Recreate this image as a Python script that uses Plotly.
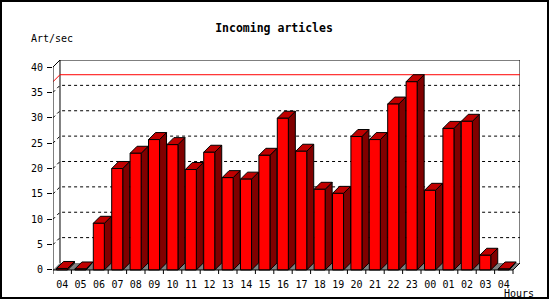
import plotly.graph_objects as go

hours = ["04", "05", "06", "07", "08", "09", "10", "11", "12", "13", "14", "15", "16",
         "17", "18", "19", "20", "21", "22", "23", "00", "01", "02", "03", "04"]
values = [0.3, 0.2, 9.2, 20.0, 23.0, 25.7, 24.7, 19.8, 23.2, 18.2, 17.9, 22.6, 29.9,
          23.4, 15.9, 15.1, 26.3, 25.7, 32.7, 37.1, 15.7, 27.9, 29.3, 2.9, 0.2]
y_ticks = [0, 5, 10, 15, 20, 25, 30, 35, 40]
grid_vals = [5, 10, 15, 20, 25, 30, 35]

N = len(values)
YMAX = 40
DX = 0.38   # depth in x (slot units)
DY = 1.38   # depth in y (value units)
YB = 0.79   # room below zero for the x tick marks (value units)
F0, FW = 0.19, 0.60  # front face offset / width within slot

MONO = "DejaVu Sans Mono"

fig = go.Figure()

# floor
fig.add_trace(go.Scatter(x=[0, N, N + DX, DX, 0], y=[0, 0, DY, DY, 0], mode="lines",
                         fill="toself", fillcolor="#808080", line=dict(width=0),
                         hoverinfo="skip", showlegend=False))

# back wall grid (dotted) with left-wall diagonal
gx, gy = [], []
for g in grid_vals:
    gx += [0, DX, N + DX, None]
    gy += [g, g + DY, g + DY, None]
fig.add_trace(go.Scatter(x=gx, y=gy, mode="lines",
                         line=dict(color="black", width=1, dash="3px,3px"),
                         hoverinfo="skip", showlegend=False))

# back wall frame
fig.add_trace(go.Scatter(x=[DX, DX, N + DX, N + DX], y=[DY, YMAX + DY, YMAX + DY, DY],
                         mode="lines", line=dict(color="black", width=1),
                         cliponaxis=False, hoverinfo="skip", showlegend=False))

# max line (red)
vmax = max(values)
fig.add_trace(go.Scatter(x=[0, DX, N + DX], y=[vmax, vmax + DY, vmax + DY], mode="lines",
                         line=dict(color="#ff0000", width=1),
                         hoverinfo="skip", showlegend=False))

# bars: faces
fx, fy, tx, ty, sx, sy = [], [], [], [], [], []
for i, v in enumerate(values):
    x0 = i + F0
    x1 = x0 + FW
    fx += [x0, x1, x1, x0, x0, None]
    fy += [0, 0, v, v, 0, None]
    tx += [x0, x1, x1 + DX, x0 + DX, x0, None]
    ty += [v, v, v + DY, v + DY, v, None]
    sx += [x1, x1 + DX, x1 + DX, x1, x1, None]
    sy += [0, DY, v + DY, v, 0, None]

for xs, ys, col in [(sx, sy, "#800000"), (tx, ty, "#c00000"), (fx, fy, "#ff0000")]:
    fig.add_trace(go.Scatter(x=xs, y=ys, mode="lines", fill="toself", fillcolor=col,
                             line=dict(color="black", width=1),
                             hoverinfo="skip", showlegend=False))

# front axes
fig.add_trace(go.Scatter(x=[DX, 0, 0, N, N + DX], y=[YMAX + DY, YMAX, 0, 0, DY],
                         mode="lines", line=dict(color="black", width=1),
                         cliponaxis=False, hoverinfo="skip", showlegend=False))

# x tick marks at slot boundaries
kx, ky = [], []
for i in range(N + 1):
    kx += [i, i, None]
    ky += [0, -YB, None]
fig.add_trace(go.Scatter(x=kx, y=ky, mode="lines", line=dict(color="black", width=1),
                         cliponaxis=False, hoverinfo="skip", showlegend=False))

L, R, T, B = 53, 30, 60, 26
W, H = 550, 300
pw, ph = W - L - R, H - T - B


def px(xp):
    return (xp - L) / pw


def py(yp):
    return (H - B - yp) / ph


fig.update_layout(
    width=W, height=H,
    margin=dict(l=L, r=R, t=T, b=B, pad=0, autoexpand=False),
    paper_bgcolor="white", plot_bgcolor="white",
    showlegend=False,
    title=dict(text="<b>Incoming articles</b>", x=274 / W, xanchor="center", xref="container",
               y=1 - 28 / H, yanchor="middle", yref="container",
               font=dict(family=MONO, size=11.5, color="black")),
    xaxis=dict(range=[0, N + DX], showgrid=False, zeroline=False, showline=False,
               automargin=False,
               tickmode="array", tickvals=[i + 0.5 for i in range(N)], ticktext=hours,
               ticks="outside", ticklen=1, tickcolor="rgba(0,0,0,0)",
               tickfont=dict(family=MONO, size=10, color="black"),
               fixedrange=True),
    yaxis=dict(range=[-YB, YMAX + DY], showgrid=False, zeroline=False, showline=False,
               automargin=False,
               tickmode="array", tickvals=y_ticks, ticks="outside", ticklen=5,
               ticklabelstandoff=2,
               tickcolor="black", tickfont=dict(family=MONO, size=10, color="black"),
               fixedrange=True),
    annotations=[
        dict(text="Art/sec", xref="paper", yref="paper", x=px(29), y=py(39),
             xanchor="left", yanchor="middle", showarrow=False,
             font=dict(family=MONO, size=10, color="black")),
        dict(text="Hours", xref="paper", yref="paper", x=px(502), y=py(293),
             xanchor="left", yanchor="middle", showarrow=False,
             font=dict(family=MONO, size=10, color="black")),
    ],
    shapes=[dict(type="rect", xref="paper", yref="paper", x0=px(1), x1=px(548),
                 y0=py(298), y1=py(1), line=dict(color="black", width=2),
                 fillcolor="rgba(0,0,0,0)")],
)

fig.write_html("out.html")
